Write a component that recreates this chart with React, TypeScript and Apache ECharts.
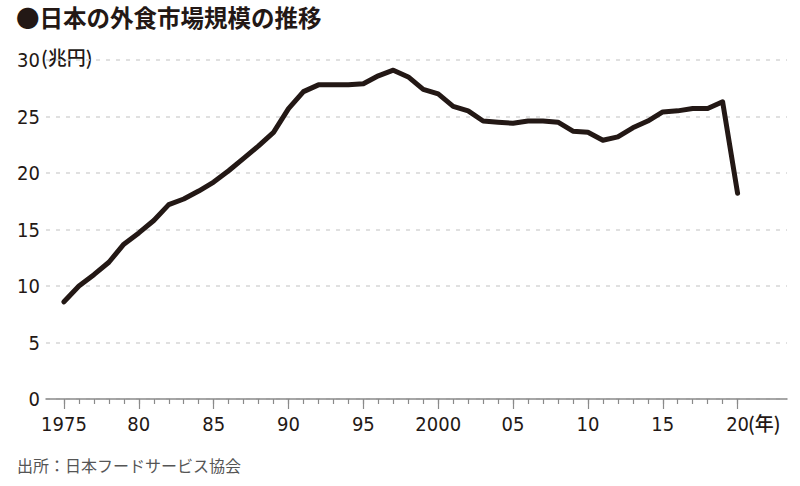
import React, { useEffect, useRef } from "react";
import * as echarts from "echarts";

const years = [
  1975, 1976, 1977, 1978, 1979, 1980, 1981, 1982, 1983, 1984,
  1985, 1986, 1987, 1988, 1989, 1990, 1991, 1992, 1993, 1994,
  1995, 1996, 1997, 1998, 1999, 2000, 2001, 2002, 2003, 2004,
  2005, 2006, 2007, 2008, 2009, 2010, 2011, 2012, 2013, 2014,
  2015, 2016, 2017, 2018, 2019, 2020,
];
const marketSize = [
  8.6, 10.0, 11.0, 12.1, 13.7, 14.7, 15.8, 17.2, 17.7, 18.4,
  19.2, 20.2, 21.3, 22.4, 23.6, 25.7, 27.2, 27.8, 27.8, 27.8,
  27.9, 28.6, 29.1, 28.5, 27.4, 27.0, 25.9, 25.5, 24.6, 24.5,
  24.4, 24.6, 24.6, 24.5, 23.7, 23.6, 22.9, 23.2, 24.0, 24.6,
  25.4, 25.5, 25.7, 25.7, 26.3, 18.2,
];
const majorTickYears = [1975, 1980, 1985, 1990, 1995, 2000, 2005, 2010, 2015, 2020];
const xTickLabels = ["1975", "80", "85", "90", "95", "2000", "05", "10", "15", "20"];
const yTicks = [0, 5, 10, 15, 20, 25, 30];

const title = "●日本の外食市場規模の推移";
const source = "出所：日本フードサービス協会";
const yUnit = "(兆円)";
const xUnit = "(年)";

const INK = "#231815";
const NUM_FONT = "'DejaVu Sans Condensed', 'Liberation Sans Narrow', 'Noto Sans', sans-serif";
const CJK_FONT = "'Noto Sans CJK JP', sans-serif";

export default function App() {
  const ref = useRef<HTMLDivElement>(null);
  useEffect(() => {
    if (!ref.current) return;
    const chart = echarts.init(ref.current, null, { renderer: "svg" });
    const xMin = 1973.8;
    const xMax = 2023.3;
    chart.setOption({
      animation: false,
      backgroundColor: "#ffffff",
      grid: { left: 46, right: 13, top: 60, bottom: 87, containLabel: false },
      xAxis: [
        {
          type: "value",
          min: xMin,
          max: xMax,
          axisLine: { show: true, lineStyle: { color: "#8a8a8a", width: 1.5 } },
          axisTick: {
            show: true,
            customValues: majorTickYears,
            length: 10,
            lineStyle: { color: "#8a8a8a", width: 1.2 },
          },
          axisLabel: {
            show: true,
            customValues: majorTickYears,
            margin: 15,
            fontFamily: NUM_FONT,
            fontSize: 20,
            color: INK,
            formatter: (v: number) => {
              const i = majorTickYears.indexOf(Math.round(v));
              return i >= 0 ? xTickLabels[i] : "";
            },
          },
          splitLine: { show: false },
        },
        {
          type: "value",
          min: xMin,
          max: xMax,
          position: "bottom",
          axisLine: { show: false },
          axisTick: {
            show: true,
            customValues: years,
            length: 5,
            lineStyle: { color: "#8a8a8a", width: 1.2 },
          },
          axisLabel: { show: false },
          splitLine: { show: false },
        },
      ],
      yAxis: {
        type: "value",
        min: 0,
        max: 30,
        interval: 5,
        axisLine: { show: false },
        axisTick: { show: false },
        axisLabel: {
          margin: 6,
          fontFamily: NUM_FONT,
          fontSize: 20,
          color: INK,
          formatter: (v: number) => (yTicks.indexOf(v) >= 0 ? String(v) : ""),
        },
        splitLine: {
          show: true,
          lineStyle: { color: "#d6d6d6", type: [4, 6], width: 1.5 },
        },
      },
      series: [
        {
          type: "line",
          xAxisIndex: 0,
          data: years.map((y, i) => [y, marketSize[i]]),
          showSymbol: false,
          symbol: "none",
          lineStyle: { color: INK, width: 5, join: "round", cap: "round" },
          z: 5,
        },
      ],
      graphic: [
        {
          type: "text",
          left: 16,
          top: 5,
          style: { text: title, font: `bold 23.5px ${CJK_FONT}`, fill: INK },
        },
        {
          type: "text",
          left: 41,
          top: 47,
          style: { text: yUnit, font: `500 19px ${CJK_FONT}`, fill: INK },
        },
        {
          type: "text",
          left: 748,
          top: 413,
          style: { text: xUnit, font: `500 19px ${CJK_FONT}`, fill: INK },
        },
        {
          type: "text",
          left: 17,
          top: 457,
          style: { text: source, font: `16px ${CJK_FONT}`, fill: "#555555" },
        },
      ],
    });
    return () => chart.dispose();
  }, []);
  return <div ref={ref} style={{ width: 800, height: 486, position: "fixed", left: 0, top: 0 }} />;
}
